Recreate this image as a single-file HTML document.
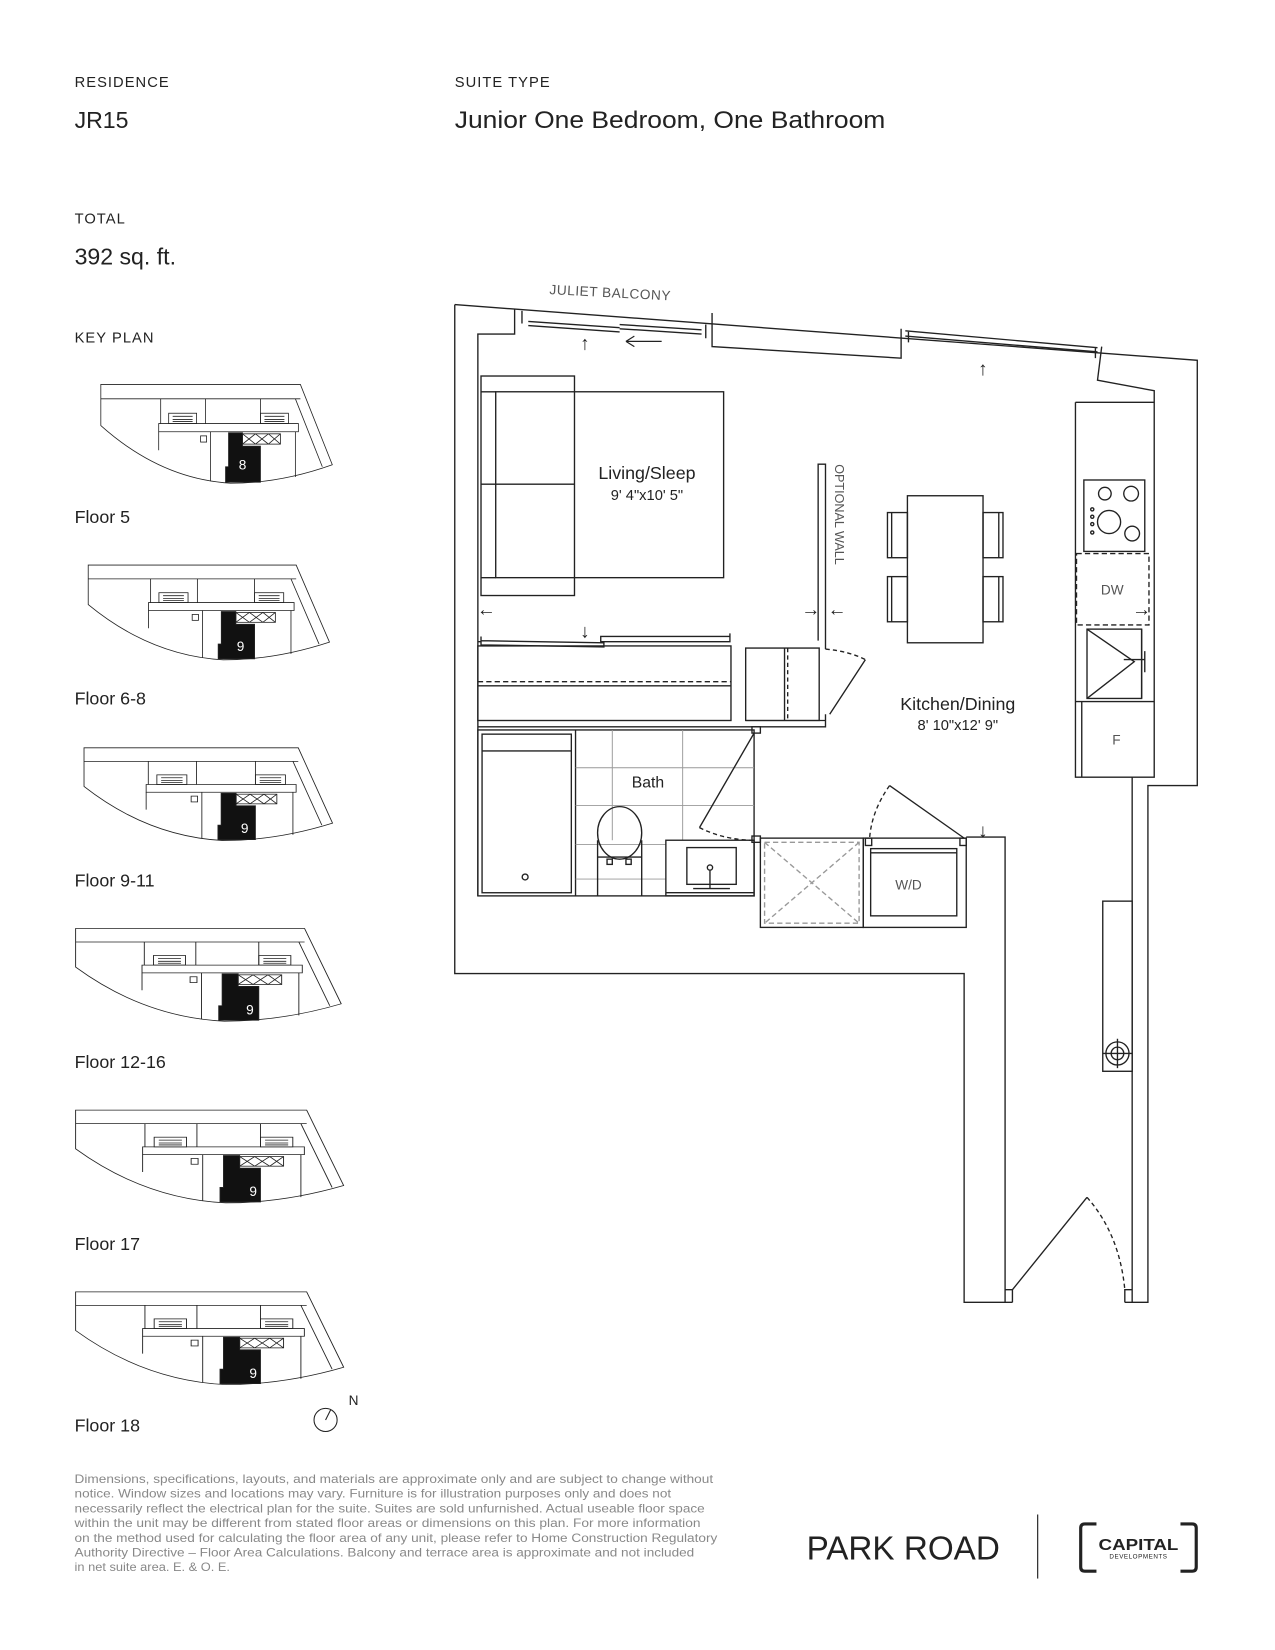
<!DOCTYPE html>
<html><head><meta charset="utf-8"><style>
html,body{margin:0;padding:0;background:#fff;}
svg{display:block;}
text{font-family:"Liberation Sans",sans-serif;}
</style></head><body>
<svg width="1275" height="1650" viewBox="0 0 1214 1571" xmlns="http://www.w3.org/2000/svg">
<defs>
<g id="kp" fill="none" stroke="#222" stroke-width="0.8">
  <path d="M0,0 H200 L232,78 Q180,96 130,96 Q60,92 0,40 Z" fill="#fff"/>
  <path d="M0,14 H200 M60,14 V38 M105,14 V38 M160,14 V38 M195,14 L222,80"/>
  <path d="M58,38 H198 V46 H58 Z"/>
  <path d="M58,46 V64 M110,46 V94 M195,46 V90"/>
  <rect x="68" y="28" width="28" height="10"/>
  <path d="M72,31 H92 M72,34 H92 M72,36 H92"/>
  <rect x="160" y="28" width="28" height="10"/>
  <path d="M164,31 H184 M164,34 H184 M164,36 H184"/>
  <rect x="142" y="48" width="38" height="10"/>
  <path d="M142,48 L155,58 M155,48 L142,58 M155,48 L168,58 M168,48 L155,58 M168,48 L180,58 M180,48 L168,58"/>
  <rect x="100" y="50" width="6" height="6"/>
  <path d="M128,47 H142 V60 H160 V95 H125 V80 H128 Z" fill="#111"/>
</g>
</defs>

<g fill="#222">
<text x="71" y="83" font-size="14" letter-spacing="1">RESIDENCE</text>
<text x="71" y="122" font-size="22">JR15</text>
<text x="433" y="83" font-size="14" letter-spacing="1">SUITE TYPE</text>
<text x="433" y="122" font-size="23" textLength="410" lengthAdjust="spacingAndGlyphs">Junior One Bedroom, One Bathroom</text>
<text x="71" y="213" font-size="14" letter-spacing="1">TOTAL</text>
<text x="71" y="252" font-size="22">392 sq. ft.</text>
<text x="71" y="326" font-size="14" letter-spacing="1">KEY PLAN</text>
<text x="71" y="498" font-size="17">Floor 5</text>
<text x="71" y="671" font-size="17">Floor 6-8</text>
<text x="71" y="844" font-size="17">Floor 9-11</text>
<text x="71" y="1017" font-size="17">Floor 12-16</text>
<text x="71" y="1190" font-size="17">Floor 17</text>
<text x="71" y="1363" font-size="17">Floor 18</text>
</g>

<use href="#kp" transform="translate(96,366) scale(0.95,0.98)"/>
<use href="#kp" transform="translate(84,538) scale(0.99,0.94)"/>
<use href="#kp" transform="translate(80,712) scale(1.02,0.92)"/>
<use href="#kp" transform="translate(72,884) scale(1.09,0.92)"/>
<use href="#kp" transform="translate(72,1057) scale(1.1,0.92)"/>
<use href="#kp" transform="translate(72,1230) scale(1.1,0.92)"/>
<g fill="#fff" font-size="13" text-anchor="middle">
<text x="231" y="447">8</text>
<text x="229" y="620">9</text>
<text x="233" y="793">9</text>
<text x="238" y="966">9</text>
<text x="241" y="1139">9</text>
<text x="241" y="1312">9</text>
</g>
<circle cx="310" cy="1352" r="11" fill="none" stroke="#222" stroke-width="1"/>
<line x1="310" y1="1352" x2="315" y2="1342" stroke="#222" stroke-width="1"/>
<text x="332" y="1338" font-size="13" fill="#222">N</text>

<g fill="none" stroke="#222" stroke-width="1.3">
  <path d="M433,290 L1140,343 V748 H1093 V1240 H1071"/>
  <path d="M433,290 V927 H918 V1240 H964"/>
  <path d="M455,853 V318 H490 V294"/>
  <path d="M497,296 V308 M672,309 V322"/>
  <path d="M503,306 L590,312 M503,310 L590,316 M590,309 L668,314 M590,313 L668,318"/>
  <path d="M678,298 V330 L858,341 V313"/>
  <path d="M862,315 L1045,331 M862,320 L1045,335 M865,316 V326 M1043,331 V341"/>
  <path d="M1049,330 L1045,362 L1099,372 V740 H1078 V1240"/>
  <path d="M1024,383 H1099 M1024,383 V740 H1078"/>
  <path d="M1030,668 V740 M1024,668 H1099"/>
  <rect x="1032" y="457" width="58" height="68"/>
  <circle cx="1052" cy="470" r="6"/><circle cx="1077" cy="470" r="7"/>
  <circle cx="1056" cy="497" r="11"/><circle cx="1078" cy="508" r="7"/>
  <circle cx="1040" cy="485" r="1.5"/><circle cx="1040" cy="492" r="1.5"/><circle cx="1040" cy="499" r="1.5"/><circle cx="1040" cy="507" r="1.5"/>
  <rect x="1025" y="527" width="69" height="68" stroke-dasharray="5,3"/>
  <rect x="1035" y="599" width="52" height="66"/>
  <path d="M1035,599 L1080,630 L1035,665 M1087,599 V665"/>
  <path d="M1070,628 H1090 M1090,620 V640"/>
  <rect x="864" y="472" width="72" height="140"/>
  <rect x="845" y="488" width="19" height="43"/><path d="M849,488 V531"/>
  <rect x="845" y="549" width="19" height="43"/><path d="M849,549 V592"/>
  <rect x="936" y="488" width="19" height="43"/><path d="M951,488 V531"/>
  <rect x="936" y="549" width="19" height="43"/><path d="M951,549 V592"/>
  <path d="M779,610 V442 H786 V618"/>
  <rect x="458" y="358" width="89" height="209"/>
  <rect x="472" y="373" width="217" height="177"/>
  <path d="M458,373 H472 M458,550 H472 M458,461 H547"/>
  <path d="M455,611 H458 M458,606 V614 L575,616 V612 L458,610 M572,606 H695 V611 H572 Z M695,603 V611"/>
  <rect x="455" y="615" width="241" height="71"/>
  <path d="M455,649 H696" stroke-dasharray="5,3"/>
  <path d="M455,653 H696"/>
  <path d="M710,617 H780 V686 H710 Z M747,617 V686"/>
  <path d="M750,617 V686" stroke-dasharray="4,3"/>
  <path d="M786,618 Q808,620 824,628" stroke-dasharray="4,3"/>
  <path d="M824,628 L790,680 M786,686 H710 M786,680 V692 H455"/>
  <rect x="455" y="695" width="263" height="158"/>
  <rect x="459" y="699" width="85" height="151"/>
  <path d="M459,715 H544"/>
  <circle cx="500" cy="835" r="2.8"/>
  <path d="M548,695 V853" />
  <g stroke="#999" stroke-width="0.9"><path d="M583,695 V800 M650,695 V800 M548,731 H718 M548,767 H718 M548,804 H634 M548,837 H634"/></g>
  <ellipse cx="590" cy="793" rx="21" ry="25"/>
  <path d="M569,800 V853 M611,800 V853 M569,816 H611"/>
  <rect x="578" y="818" width="5" height="5"/><rect x="596" y="818" width="5" height="5"/>
  <rect x="634" y="800" width="84" height="53"/>
  <rect x="654" y="807" width="47" height="35"/>
  <circle cx="676" cy="826" r="2.5"/>
  <path d="M676,829 V846 M660,846 H695 M634,850 H718"/>
  <path d="M718,698 L666,788"/>
  <path d="M666,788 Q690,800 718,800" stroke-dasharray="4,3"/>
  <rect x="716" y="692" width="8" height="6"/><rect x="716" y="796" width="8" height="6"/>
  <rect x="724" y="798" width="98" height="85"/>
  <rect x="728" y="802" width="90" height="77" stroke="#999" stroke-dasharray="5,3"/>
  <path d="M728,802 L818,879 M818,802 L728,879" stroke="#999" stroke-dasharray="5,3"/>
  <rect x="822" y="798" width="98" height="85"/>
  <rect x="829" y="808" width="82" height="64"/>
  <path d="M829,812 H911"/>
  <path d="M918,798 L847,748" />
  <path d="M847,748 Q830,772 828,798" stroke-dasharray="4,3"/>
  <rect x="824" y="798" width="6" height="7"/><rect x="914" y="798" width="6" height="7"/>
  <path d="M920,797 H957 V1240"/>
  <rect x="1050" y="858" width="28" height="162"/>
  <circle cx="1064" cy="1003" r="11"/><circle cx="1064" cy="1003" r="6"/>
  <path d="M1050,1003 H1078 M1064,989 V1017"/>
  <path d="M957,1228 H964 V1240 M1078,1228 H1071 V1240"/>
  <path d="M964,1228 L1035,1140"/>
  <path d="M1035,1140 Q1066,1175 1071,1228" stroke-dasharray="4,3"/>
</g>

<g fill="#222" font-size="18" text-anchor="middle">
<text x="557" y="333">↑</text>
<text x="936" y="357">↑</text>
<text x="463" y="586">←</text>
<text x="772" y="586">→</text>
<text x="797" y="586">←</text>
<text x="557" y="607">↓</text>
<text x="936" y="797">↓</text>
<text x="1087" y="586">→</text>
</g>
<path d="M596,325 H630 M596,325 l8,-5 M596,325 l8,5" stroke="#222" stroke-width="1.1" fill="none"/>

<text x="581" y="283" font-size="13" fill="#555" text-anchor="middle" letter-spacing="0.5" transform="rotate(3 581 280)">JULIET BALCONY</text>
<text x="616" y="456" font-size="17" fill="#222" text-anchor="middle">Living/Sleep</text>
<text x="616" y="476" font-size="14" fill="#222" text-anchor="middle">9' 4"x10' 5"</text>
<text x="912" y="676" font-size="17" fill="#222" text-anchor="middle">Kitchen/Dining</text>
<text x="912" y="695" font-size="14" fill="#222" text-anchor="middle">8' 10"x12' 9"</text>
<text x="617" y="750" font-size="15" fill="#222" text-anchor="middle">Bath</text>
<text x="865" y="847" font-size="13" fill="#555" text-anchor="middle">W/D</text>
<text x="1059" y="566" font-size="13" fill="#555" text-anchor="middle">DW</text>
<text x="1063" y="709" font-size="13" fill="#555" text-anchor="middle">F</text>
<text x="795" y="442" font-size="12" fill="#555" transform="rotate(90 795 442)">OPTIONAL WALL</text>

<g fill="#888" font-size="11.5">
<text x="71" y="1412" textLength="608" lengthAdjust="spacingAndGlyphs">Dimensions, specifications, layouts, and materials are approximate only and are subject to change without</text>
<text x="71" y="1426" textLength="568" lengthAdjust="spacingAndGlyphs">notice. Window sizes and locations may vary. Furniture is for illustration purposes only and does not</text>
<text x="71" y="1440" textLength="600" lengthAdjust="spacingAndGlyphs">necessarily reflect the electrical plan for the suite. Suites are sold unfurnished. Actual useable floor space</text>
<text x="71" y="1454" textLength="596" lengthAdjust="spacingAndGlyphs">within the unit may be different from stated floor areas or dimensions on this plan. For more information</text>
<text x="71" y="1468" textLength="612" lengthAdjust="spacingAndGlyphs">on the method used for calculating the floor area of any unit, please refer to Home Construction Regulatory</text>
<text x="71" y="1482" textLength="590" lengthAdjust="spacingAndGlyphs">Authority Directive – Floor Area Calculations. Balcony and terrace area is approximate and not included</text>
<text x="71" y="1496" textLength="148" lengthAdjust="spacingAndGlyphs">in net suite area. E. &amp; O. E.</text>
</g>
<text x="768" y="1485" font-size="32" fill="#222" font-family="Liberation Serif, serif" textLength="184" lengthAdjust="spacingAndGlyphs">PARK ROAD</text>
<line x1="988" y1="1442" x2="988" y2="1503" stroke="#333" stroke-width="1.2"/>
<g fill="none" stroke="#222" stroke-width="3">
<path d="M1044,1451 H1033 Q1029,1451 1029,1455 V1492 Q1029,1496 1033,1496 H1044"/>
<path d="M1124,1451 H1135 Q1139,1451 1139,1455 V1492 Q1139,1496 1135,1496 H1124"/>
</g>
<text x="1084" y="1476" font-size="15" font-weight="bold" fill="#222" text-anchor="middle" textLength="76" lengthAdjust="spacingAndGlyphs">CAPITAL</text>
<text x="1084" y="1484" font-size="6" fill="#222" text-anchor="middle" letter-spacing="0.5">DEVELOPMENTS</text>
</svg>
</body></html>
